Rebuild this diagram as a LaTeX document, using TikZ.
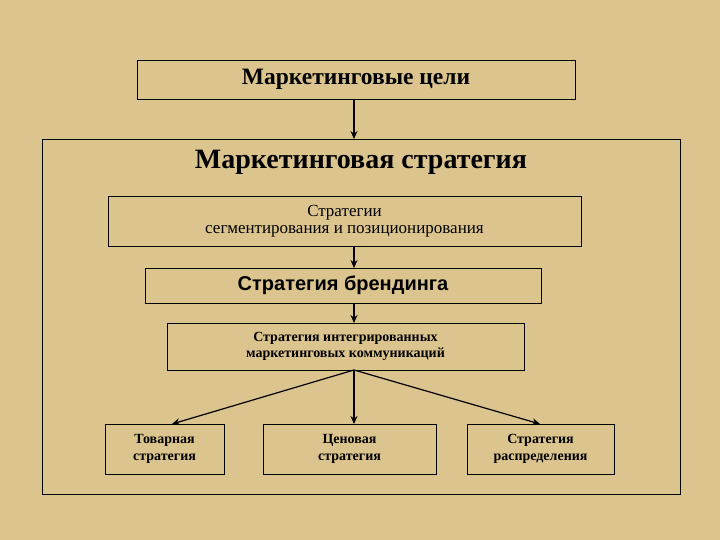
\documentclass[tikz,border=0pt]{standalone}
\usepackage{fontspec}
\setmainfont{Liberation Serif}
\setsansfont{Liberation Sans}
\usetikzlibrary{arrows.meta}
\definecolor{bg}{HTML}{DCC48E}
\begin{document}
\begin{tikzpicture}[x=1pt,y=-1pt,
  box/.style={draw=black,line width=0.9pt,inner sep=0pt,align=center},
  con/.style={draw=black,line width=1.2pt,-{Stealth[length=8pt,width=7pt]}}]
\fill[bg] (0,0) rectangle (720,540);
\useasboundingbox (0,0) rectangle (720,540);
\node[box,minimum width=438,minimum height=39,font=\bfseries\fontsize{23.5}{26}\selectfont] (goals) at (356,79.5) {Маркетинговые цели};
\node[box,minimum width=638,minimum height=355] (outer) at (361,316.5) {};
\node[font=\bfseries\fontsize{28}{30}\selectfont] (title) at (361,162) {Маркетинговая стратегия};
\node[box,minimum width=473,minimum height=50,font=\fontsize{17}{17}\selectfont] (seg) at (344.5,221) {Стратегии\\сегментирования и позиционирования};
\node[box,minimum width=396,minimum height=35,font=\sffamily\bfseries\fontsize{20}{22}\selectfont] (brand) at (343,285.5) {Стратегия брендинга};
\node[box,minimum width=357,minimum height=47,font=\bfseries\fontsize{14}{16}\selectfont] (imc) at (345.5,346.5) {Стратегия интегрированных\\маркетинговых коммуникаций};
\node[box,minimum width=119,minimum height=50,font=\bfseries\fontsize{14}{17}\selectfont] (prod) at (164.5,449) {Товарная\\стратегия};
\node[box,minimum width=173,minimum height=50,font=\bfseries\fontsize{14}{17}\selectfont] (price) at (349.5,449) {Ценовая\\стратегия};
\node[box,minimum width=147,minimum height=50,font=\bfseries\fontsize{14}{17}\selectfont] (dist) at (540.5,449) {Стратегия\\распределения};
\coordinate (o1) at (354,99);
\coordinate (o2) at (354,370);
\draw[con] (o1) -- (354,139);
\draw[con] (354,246) -- (354,268);
\draw[con] (354,303) -- (354,323);
\draw[con] (o2) -- (172,424);
\draw[con] (o2) -- (354,424);
\draw[con] (o2) -- (540,424);
\end{tikzpicture}
\end{document}
